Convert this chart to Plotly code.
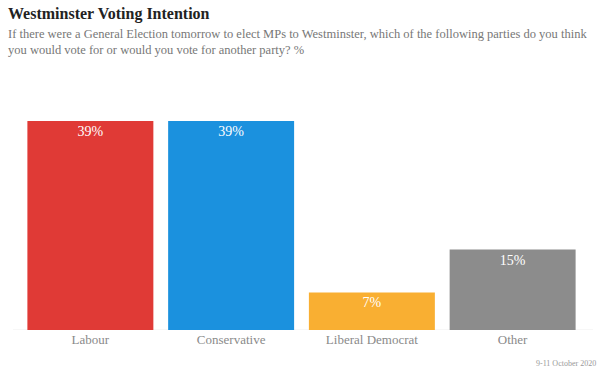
import plotly.graph_objects as go

categories = ["Labour", "Conservative", "Liberal Democrat", "Other"]
values = [39, 39, 7, 15]
labels = ["39%", "39%", "7%", "15%"]
colors = ["#E03A36", "#1B91DE", "#F9AF32", "#8C8C8C"]

title = "<b>Westminster Voting Intention</b>"
subtitle_1 = "If there were a General Election tomorrow to elect MPs to Westminster, which of the following parties do you think"
subtitle_2 = "you would vote for or would you vote for another party? %"
date_note = "9-11 October 2020"

SERIF = "Liberation Serif, Times New Roman, serif"

fig = go.Figure(go.Bar(
    x=categories, y=values, text=labels,
    marker=dict(color=colors, line=dict(width=0)),
    textposition="inside", insidetextanchor="end", textangle=0,
    textfont=dict(family=SERIF, size=14, color="white"),
    cliponaxis=False,
))

PW = 563.0
def px(x):
    return (x - 20) / PW

fig.update_layout(
    width=606, height=375,
    margin=dict(l=20, r=23, t=100, b=45),
    paper_bgcolor="white", plot_bgcolor="white",
    bargap=0.105,
    showlegend=False,
    xaxis=dict(showgrid=False, zeroline=False, showline=False, ticks="",
               tickfont=dict(family=SERIF, size=13, color="#8a8a8a")),
    yaxis=dict(visible=False, range=[0, 42.9], showgrid=False, zeroline=False),
    shapes=[dict(type="line", xref="paper", yref="y", x0=px(13), x1=px(593), y0=0, y1=0,
                 line=dict(color="#eeeeee", width=1), layer="below")],
    annotations=[
        dict(text=title, xref="paper", yref="paper",
             x=px(6), y=1.0, xanchor="left", yanchor="middle", showarrow=False,
             yshift=86, font=dict(family=SERIF, size=16, color="#222222")),
        dict(text=subtitle_1, xref="paper", yref="paper", x=px(6), y=1.0,
             xanchor="left", yanchor="middle", showarrow=False, yshift=66,
             font=dict(family=SERIF, size=12.5, color="#777777")),
        dict(text=subtitle_2, xref="paper", yref="paper", x=px(6), y=1.0,
             xanchor="left", yanchor="middle", showarrow=False, yshift=50,
             font=dict(family=SERIF, size=12.5, color="#777777")),
        dict(text=date_note, xref="paper", yref="paper", x=px(598), y=0,
             xanchor="right", yanchor="middle", showarrow=False, yshift=-33,
             font=dict(family=SERIF, size=8, color="#999999")),
    ],
)

fig.write_html("out.html", config={"displayModeBar": False},
               post_script="document.body.style.margin='0';document.body.style.padding='0';")
